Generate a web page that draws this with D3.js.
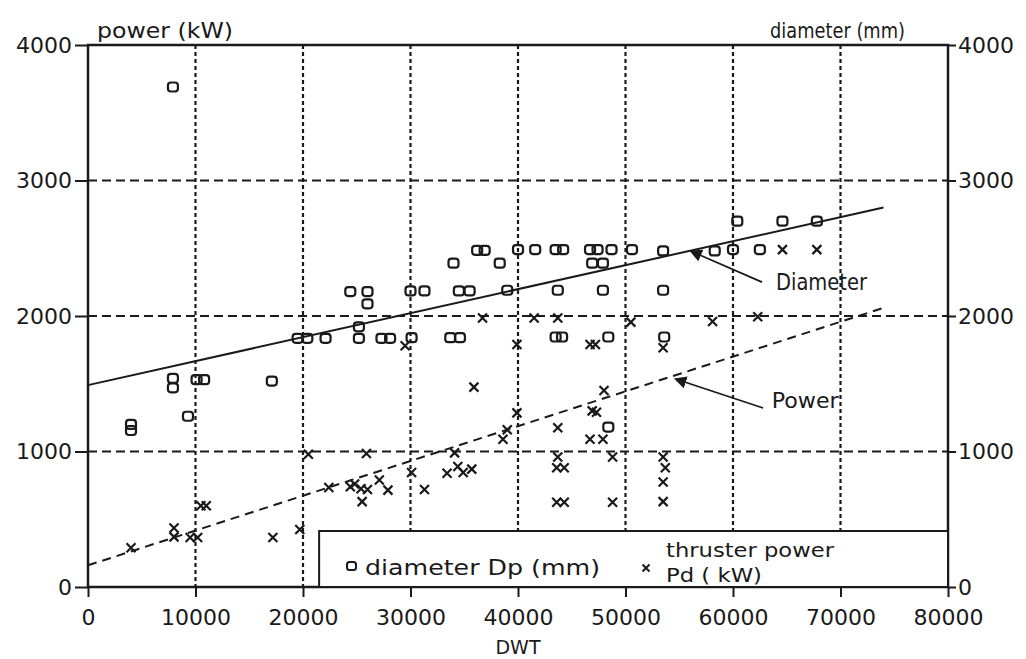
<!DOCTYPE html>
<html>
<head>
<meta charset="utf-8">
<script src="https://cdn.jsdelivr.net/npm/d3@7"></script>
<style>
  body { margin: 0; background: #fff; }
  svg text { font-family: "DejaVu Sans", "Liberation Sans", sans-serif; fill: #1a1a1a; }
</style>
</head>
<body>
<div id="chart"></div>
<script>
// propeller diameter (mm) against DWT
const diameterPts = [
  [4000, 1155], [4000, 1200], [7900, 1540], [7900, 1470], [7900, 3690],
  [9300, 1260], [10100, 1530], [10800, 1530], [17100, 1520],
  [19500, 1835], [20400, 1835], [22100, 1835],
  [24400, 2180], [26000, 2180], [26000, 2090], [25200, 1920], [25200, 1835],
  [27300, 1835], [28100, 1835], [30000, 2185], [31300, 2185], [30100, 1840],
  [34500, 2185], [35500, 2185], [33700, 1840], [34600, 1840],
  [34000, 2390], [38300, 2390], [36200, 2485], [36900, 2485], [39000, 2190],
  [40000, 2490], [41600, 2490], [43500, 2490], [44200, 2490], [46700, 2490],
  [47400, 2490], [48700, 2490], [50600, 2490], [53500, 2480],
  [46900, 2390], [47900, 2390], [43700, 2190], [47900, 2190], [53500, 2190],
  [43500, 1845], [44100, 1845], [48400, 1845], [53600, 1845], [48400, 1180],
  [58300, 2480], [60000, 2490], [62500, 2490],
  [60400, 2700], [64600, 2700], [67800, 2700]
];

// thruster power (kW) against DWT
const powerPts = [
  [4000, 290], [8000, 435], [8000, 370], [9500, 365], [10200, 365],
  [10500, 600], [11000, 600], [17200, 365], [19700, 425], [20500, 980],
  [22400, 735], [24400, 740], [24800, 760], [25400, 725], [25500, 630],
  [26000, 720], [25900, 985], [27100, 790], [27900, 715], [29500, 1780],
  [30100, 845], [31300, 720], [33400, 840], [34400, 890], [34900, 845],
  [35700, 870], [34100, 990], [35900, 1475], [36700, 1985],
  [38600, 1090], [39000, 1160], [39900, 1285], [39900, 1790],
  [41500, 1985], [43700, 1985], [43700, 1175], [43700, 960],
  [43600, 880], [44300, 880], [43600, 625], [44300, 625],
  [46700, 1790], [47200, 1790], [46900, 1300], [47300, 1290],
  [46700, 1090], [47900, 1090], [48000, 1450], [48800, 960], [48800, 625],
  [50500, 1955], [53500, 1765], [53500, 960], [53700, 880], [53500, 775],
  [53500, 630], [58100, 1960], [62300, 1995], [64600, 2490], [67800, 2490]
];

// fitted lines
const diameterFit = [[0, 1490], [74000, 2800]];
const powerFit = [[0, 160], [74000, 2060]];

const xTicks = [0, 10000, 20000, 30000, 40000, 50000, 60000, 70000, 80000];
const yTicks = [0, 1000, 2000, 3000, 4000];
const xGrid = [10000, 20000, 30000, 40000, 50000, 60000, 70000];
const yGrid = [1000, 2000, 3000];

const width = 1026, height = 659;
const margin = { top: 45, right: 78, bottom: 72, left: 88 };
const ink = "#1a1a1a";

const svg = d3.select("#chart").append("svg")
  .attr("width", width).attr("height", height);

const x = d3.scaleLinear().domain([0, 80000]).range([margin.left, width - margin.right]);
const y = d3.scaleLinear().domain([0, 4000]).range([height - margin.bottom, margin.top]);

// grid
svg.append("g").selectAll("line").data(xGrid).join("line")
  .attr("x1", d => x(d)).attr("x2", d => x(d))
  .attr("y1", y(4000)).attr("y2", y(0))
  .attr("stroke", ink).attr("stroke-width", 2.2).attr("stroke-dasharray", "4,3");

svg.append("g").selectAll("line").data(yGrid).join("line")
  .attr("x1", x(0)).attr("x2", x(80000))
  .attr("y1", d => y(d)).attr("y2", d => y(d))
  .attr("stroke", ink).attr("stroke-width", 2).attr("stroke-dasharray", "9,5");

// legend box (covers grid)
const lg = svg.append("g");
lg.append("rect")
  .attr("x", x(21500)).attr("y", y(0) - 56)
  .attr("width", x(80000) - x(21500)).attr("height", 56)
  .attr("fill", "#fff").attr("stroke", ink).attr("stroke-width", 2);

// axes
const fs = 22;
const bottom = svg.append("g")
  .attr("transform", `translate(0,${y(0)})`)
  .call(d3.axisBottom(x).tickValues(xTicks).tickFormat(d3.format("d")).tickSize(10).tickPadding(12));
const left = svg.append("g")
  .attr("transform", `translate(${x(0)},0)`)
  .call(d3.axisLeft(y).tickValues(yTicks).tickFormat(d3.format("d")).tickSize(13).tickPadding(3));
const right = svg.append("g")
  .attr("transform", `translate(${x(80000)},0)`)
  .call(d3.axisRight(y).tickValues(yTicks).tickFormat(d3.format("d")).tickSize(8).tickPadding(2));

[bottom, left, right].forEach(g => {
  g.select(".domain").remove();
  g.selectAll("line").attr("stroke", ink).attr("stroke-width", 2);
  g.selectAll("text").attr("font-size", fs).attr("fill", ink)
    .style("font-family", "'DejaVu Sans', sans-serif");
});

// frame
svg.append("rect")
  .attr("x", x(0)).attr("y", y(4000))
  .attr("width", x(80000) - x(0)).attr("height", y(0) - y(4000))
  .attr("fill", "none").attr("stroke", ink).attr("stroke-width", 2.5);

// titles
svg.append("text").attr("x", 97).attr("y", 38)
  .attr("font-size", 21).attr("textLength", 136).attr("lengthAdjust", "spacingAndGlyphs")
  .text("power (kW)");
svg.append("text").attr("x", 770).attr("y", 38)
  .attr("font-size", 21).attr("textLength", 135).attr("lengthAdjust", "spacingAndGlyphs")
  .text("diameter (mm)");
svg.append("text").attr("x", x(40000)).attr("y", 654)
  .attr("text-anchor", "middle").attr("font-size", 19)
  .text("DWT");

// fitted lines
const line = d3.line().x(d => x(d[0])).y(d => y(d[1]));
svg.append("path").datum(diameterFit).attr("d", line)
  .attr("fill", "none").attr("stroke", ink).attr("stroke-width", 2);
svg.append("path").datum(powerFit).attr("d", line)
  .attr("fill", "none").attr("stroke", ink).attr("stroke-width", 2)
  .attr("stroke-dasharray", "9,6");

// markers
svg.append("g").selectAll("rect").data(diameterPts).join("rect")
  .attr("x", d => x(d[0]) - 5).attr("y", d => y(d[1]) - 4.5)
  .attr("width", 10).attr("height", 9).attr("rx", 3)
  .attr("fill", "none").attr("stroke", ink).attr("stroke-width", 2.2);

const cross = "M-4.5,-4.5L4.5,4.5M-4.5,4.5L4.5,-4.5";
svg.append("g").selectAll("path").data(powerPts).join("path")
  .attr("transform", d => `translate(${x(d[0])},${y(d[1])})`)
  .attr("d", cross).attr("fill", "none").attr("stroke", ink).attr("stroke-width", 2.2);

// annotations with arrows
svg.append("defs").append("marker")
  .attr("id", "ah").attr("viewBox", "0 0 10 10").attr("refX", 1).attr("refY", 5)
  .attr("markerWidth", 7).attr("markerHeight", 7).attr("orient", "auto-start-reverse")
  .append("path").attr("d", "M0,0L10,5L0,10Z").attr("fill", ink);

const notes = [
  { label: "Diameter", tail: [62700, 2250], tip: [56900, 2450], at: [64000, 2192], len: 91, size: 23 },
  { label: "Power", tail: [62800, 1321], tip: [55500, 1513], at: [63600, 1321], len: 67, size: 21 }
];
notes.forEach(n => {
  svg.append("line")
    .attr("x1", x(n.tail[0])).attr("y1", y(n.tail[1]))
    .attr("x2", x(n.tip[0])).attr("y2", y(n.tip[1]))
    .attr("stroke", ink).attr("stroke-width", 1.8)
    .attr("marker-end", "url(#ah)");
  svg.append("text").attr("x", x(n.at[0])).attr("y", y(n.at[1]))
    .attr("font-size", n.size).attr("textLength", n.len).attr("lengthAdjust", "spacingAndGlyphs")
    .text(n.label);
});

// legend contents
lg.raise();
lg.append("rect").attr("x", 347).attr("y", 562).attr("width", 9).attr("height", 8).attr("rx", 2.5)
  .attr("fill", "none").attr("stroke", ink).attr("stroke-width", 2);
lg.append("text").attr("x", 365).attr("y", 575).attr("font-size", 21)
  .attr("textLength", 235).attr("lengthAdjust", "spacingAndGlyphs").text("diameter Dp (mm)");
lg.append("path").attr("transform", "translate(646,568)").attr("d", "M-3.5,-3.5L3.5,3.5M-3.5,3.5L3.5,-3.5")
  .attr("stroke", ink).attr("stroke-width", 2);
lg.append("text").attr("x", 666).attr("y", 557).attr("font-size", 20)
  .attr("textLength", 168).attr("lengthAdjust", "spacingAndGlyphs").text("thruster power");
lg.append("text").attr("x", 666).attr("y", 582).attr("font-size", 20)
  .attr("textLength", 96).attr("lengthAdjust", "spacingAndGlyphs").text("Pd ( kW)");
</script>
</body>
</html>
